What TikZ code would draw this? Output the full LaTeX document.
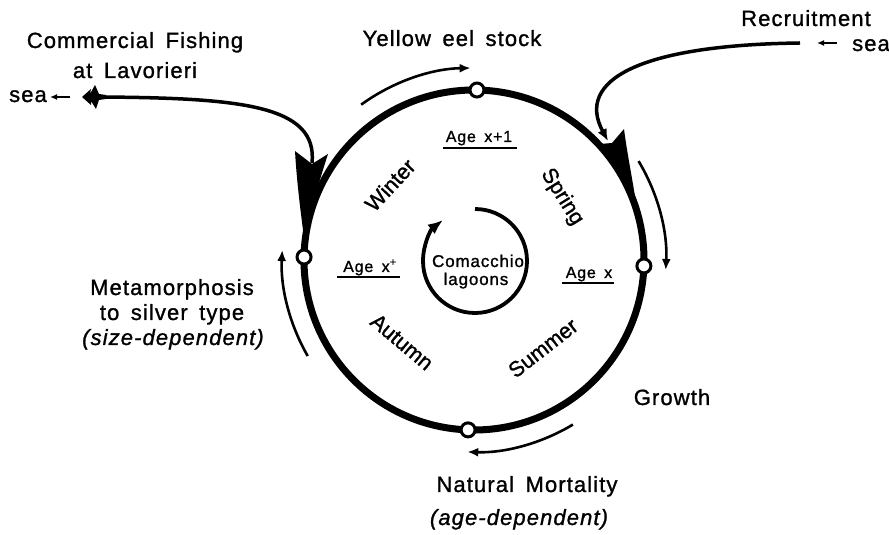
\documentclass[tikz,border=0pt]{standalone}
\usepackage{fontspec}
\setmainfont{Liberation Sans}[LetterSpace=5,WordSpace=1.6,FakeBold=1.2]
\newfontfamily\seasonfont{Liberation Sans}[FakeBold=1.2]
\usetikzlibrary{arrows.meta}
\begin{document}
\begin{tikzpicture}[x=1pt,y=1pt,
  loopline/.style={line width=7pt},
  thinarc/.style={line width=2.6pt,-{Latex[length=11pt,width=9pt]}},
  flowline/.style={line width=3.5pt},
  stage/.style={circle,draw,line width=3pt,fill=white,minimum size=14pt,inner sep=0pt},
  biglabel/.style={font=\fontsize{22}{24}\selectfont,inner sep=0pt},
  biglabelit/.style={font=\fontsize{22}{24}\selectfont\itshape,inner sep=0pt},
  season/.style={font=\seasonfont\fontsize{21.5}{23}\selectfont,inner sep=0pt},
  agelabel/.style={font=\fontsize{16}{18}\selectfont,inner sep=0pt,anchor=base},
  lagoon/.style={font=\fontsize{17}{19}\selectfont,inner sep=0pt,anchor=base},
  underl/.style={line width=1.6pt},
  seaarrow/.style={line width=2pt,-{Latex[length=7pt,width=6pt]}}]
\path[use as bounding box] (0,0) rectangle (889,535);
\coordinate (C) at (474,275);
\coordinate (I) at (475,274);
% main loop
\draw[loopline] (C) circle[radius=170];
% wedges
\fill (295,384) -- (312,371) -- (328,381) .. controls (318,350) and (309,320) .. (305,290)
      .. controls (301,320) and (297,350) .. cycle;
\fill (600,391) -- (612,392) -- (624,406) .. controls (628,375) and (634,350) .. (637,323)
      .. controls (627,355) and (613,377) .. cycle;
% stage nodes
\node[stage] (top) at ([shift={(89:170)}]C) {};
\node[stage] (right) at ([shift={(-2:170)}]C) {};
\node[stage] (bottom) at ([shift={(-92:170)}]C) {};
\node[stage] (left) at ([shift={(179:170)}]C) {};
% thin outer arcs
\draw[thinarc] ([shift={(126:192)}]C) arc[start angle=126,end angle=91,radius=192];
\draw[thinarc] ([shift={(31:192)}]C) arc[start angle=31,end angle=-3,radius=192];
\draw[thinarc] ([shift={(-59:192)}]C) arc[start angle=-59,end angle=-92,radius=192];
\draw[thinarc] ([shift={(210:192)}]C) arc[start angle=210,end angle=177,radius=192];
% inner lagoon arc
\draw[line width=3.8pt,-{Latex[length=15pt,width=12pt]}] ([shift={(90:52)}]I) arc[start angle=90,end angle=-232,radius=52];
% recruitment
\coordinate (recstart) at (800,492);
\coordinate (rectip) at (608,394);
\draw[flowline,-{Latex[length=12pt,width=10pt]}] (recstart) .. controls (640,490) and (575,455) .. (rectip);
% fishing
\coordinate (fishstart) at (312,372);
\coordinate (fishend) at (100,438);
\draw[flowline] (fishstart) .. controls (318,430) and (240,437) .. (fishend);
\fill (82,438) -- (91,446) -- (90,441) -- (95,450) -- (99,441) -- (106,440) -- (106,436)
      -- (99,435) -- (96,426) -- (91,434) -- (91,430) -- cycle;
% sea arrows
\coordinate (seaLa) at (70,438);
\coordinate (seaLb) at (50,438);
\draw[seaarrow] (seaLa) -- (seaLb);
\coordinate (seaRa) at (837,492);
\coordinate (seaRb) at (817,492);
\draw[seaarrow] (seaRa) -- (seaRb);
% outer labels
\node[biglabel,anchor=base] (yel) at (452,489) {Yellow eel stock};
\node[biglabel,anchor=base] (cf1) at (135,487) {Commercial Fishing};
\node[biglabel,anchor=base] (cf2) at (135,457) {at Lavorieri};
\node[biglabel,anchor=base] (seaL) at (28,433) {sea};
\node[biglabel,anchor=base] (rec) at (806,509) {Recruitment};
\node[biglabel,anchor=base] (seaR) at (871,484) {sea};
\node[biglabel,anchor=base] (met1) at (172,240) {Metamorphosis};
\node[biglabel,anchor=base] (met2) at (172,215) {to silver type};
\node[biglabelit,anchor=base] (met3) at (173,190) {(size-dependent)};
\node[biglabel,anchor=base] (gro) at (672,130) {Growth};
\node[biglabel,anchor=base] (nm1) at (527,43) {Natural Mortality};
\node[biglabelit,anchor=base] (nm2) at (519,10) {(age-dependent)};
% inner labels
\node[agelabel] (a1) at (479,393) {Age x+1};
\draw[underl] (443,387) -- (517,387);
\node[agelabel] (a2) at (370,263) {Age x\textsuperscript{+}};
\draw[underl] (337,258) -- (400,258);
\node[agelabel] (a3) at (589,257) {Age x};
\draw[underl] (562,252) -- (614,252);
\node[lagoon] (lag1) at (478,268) {Comacchio};
\node[lagoon] (lag2) at (476,250) {lagoons};
\node[season,rotate=47] (win) at (390,350) {Winter};
\node[season,rotate=-58] (spr) at (562,338) {Spring};
\node[season,rotate=-40] (aut) at (402,193) {Autumn};
\node[season,rotate=38] (sum) at (543,187) {Summer};
\end{tikzpicture}
\end{document}
